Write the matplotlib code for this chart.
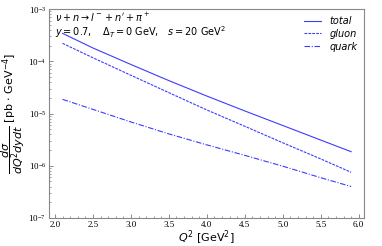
import matplotlib
matplotlib.use('Agg')
import matplotlib.pyplot as plt
import numpy as np
from matplotlib.ticker import FuncFormatter, LogLocator, MultipleLocator

# values
q2 = [2.1, 2.5, 3.0, 3.5, 4.0, 4.5, 5.0, 5.5, 5.9]
total = [3.43e-4, 1.80e-4, 8.7e-5, 4.27e-5, 2.16e-5, 1.12e-5, 5.9e-6, 3.1e-6, 1.86e-6]
gluon = [2.21e-4, 1.17e-4, 5.4e-5, 2.51e-5, 1.17e-5, 5.7e-6, 2.75e-6, 1.35e-6, 7.5e-7]
quark = [1.87e-5, 1.20e-5, 6.9e-6, 4.07e-6, 2.51e-6, 1.58e-6, 9.8e-7, 5.9e-7, 4.0e-7]

col = '#3c3cff'

fig = plt.figure(figsize=(3.82, 2.46), dpi=100)
ax = fig.add_axes([0.128, 0.114, 0.825, 0.849])

ax.plot(q2, total, color=col, linestyle='-', linewidth=0.8, label='total')
ax.plot(q2, gluon, color=col, linestyle=(0, (2.5, 1)), linewidth=0.8, label='gluon')
ax.plot(q2, quark, color=col, linestyle=(0, (5, 1.5, 1, 1.5)), linewidth=0.8, label='quark')

ax.set_yscale('log')
ax.set_xlim(1.92, 6.07)
ax.set_ylim(1e-7, 1e-3)

ax.xaxis.set_major_locator(MultipleLocator(0.5))
ax.xaxis.set_minor_locator(MultipleLocator(0.1))
ax.yaxis.set_major_locator(LogLocator(base=10, numticks=10))
ax.yaxis.set_minor_locator(LogLocator(base=10, subs=np.arange(2, 10), numticks=10))
ax.yaxis.set_major_formatter(FuncFormatter(lambda v, p: r'$\mathregular{10^{%d}}$' % round(np.log10(v))))
ax.xaxis.set_major_formatter(FuncFormatter(lambda v, p: '%.1f' % v))

ax.tick_params(which='both', direction='in', color='#777777', labelsize=6.5, pad=2)
ax.tick_params(which='major', length=3, width=0.6)
ax.tick_params(which='minor', length=1.5, width=0.5)
for lab in ax.get_xticklabels() + ax.get_yticklabels():
    lab.set_fontfamily('Liberation Serif')
for s in ax.spines.values():
    s.set_color('#888888')
    s.set_linewidth(0.8)

ax.set_xlabel(r'$Q^2$ [GeV$^2$]', fontsize=8, labelpad=0)
ax.set_ylabel(r'$\dfrac{d\sigma}{dQ^2dydt}$ [pb $\cdot$ GeV$^{-4}$]', fontsize=8, labelpad=1)

ax.text(0.02, 0.99, r'$\nu + n \rightarrow l^- + n^{\prime} + \pi^+$', transform=ax.transAxes,
        fontsize=7, va='top', ha='left')
ax.text(0.02, 0.93, r'$y = 0.7,\quad \Delta_T = 0$ GeV,$\quad s = 20$ GeV$^2$', transform=ax.transAxes,
        fontsize=7, va='top', ha='left')

leg = ax.legend(loc='upper right', frameon=False, fontsize=7, handlelength=1.8,
                labelspacing=0.3, borderaxespad=0.3)
for t in leg.get_texts():
    t.set_fontstyle('italic')

fig.savefig('out.png', dpi=100)
